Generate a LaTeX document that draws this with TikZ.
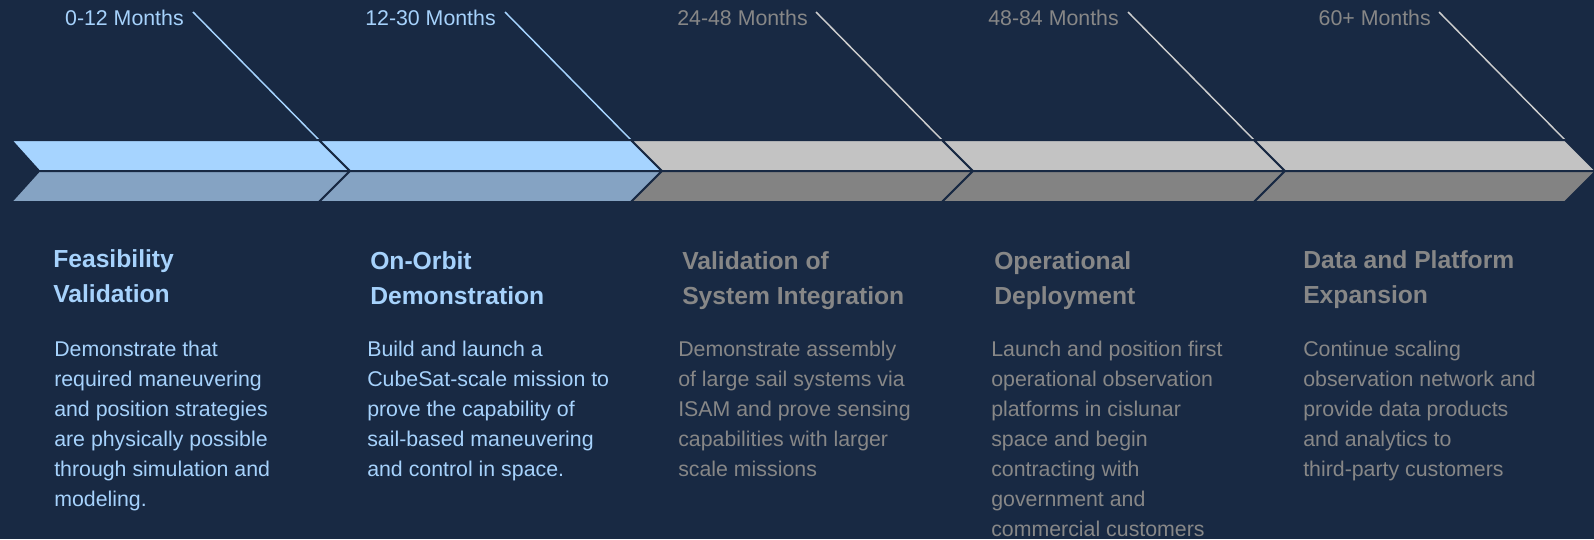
\documentclass[tikz,border=0pt]{standalone}
\usepackage{fontspec}
\setmainfont{Liberation Sans}
\definecolor{navybg}{RGB}{24,41,67}
\definecolor{skytop}{RGB}{166,212,255}
\definecolor{skybot}{RGB}{133,163,195}
\definecolor{greytop}{RGB}{195,195,195}
\definecolor{greybot}{RGB}{131,131,131}
\definecolor{skytext}{RGB}{166,210,252}
\definecolor{greytext}{RGB}{135,135,135}
\definecolor{greyline}{RGB}{205,205,205}

\begin{document}
\begin{tikzpicture}[x=0.75pt,y=0.75pt,yscale=-1,xscale=1,
  band/.style={draw=navybg, line width=1.5pt, line join=miter},
  leader/.style={line width=1.1pt},
  monthlabel/.style={anchor=base east, inner sep=0pt, font=\fontsize{16}{19}\selectfont},
  phasetitle/.style={anchor=base west, inner sep=0pt, align=left, font=\fontsize{18.5}{26.25}\selectfont\bfseries},
  blurb/.style={anchor=base west, inner sep=0pt, align=left, font=\fontsize{16}{22.5}\selectfont}]

\useasboundingbox (0,0) rectangle (1594,539);
%Shape: Rectangle [background]
\fill [navybg] (0,0) rectangle (1594,539);

%Leader end points
\coordinate (lt1) at (193,12);   \coordinate (lb1) at (319,140);
\coordinate (lt2) at (505,12);   \coordinate (lb2) at (631,140);
\coordinate (lt3) at (816,12);   \coordinate (lb3) at (942,140);
\coordinate (lt4) at (1128,12);  \coordinate (lb4) at (1254,140);
\coordinate (lt5) at (1439,12);  \coordinate (lb5) at (1565,140);

%Straight Lines [leaders]
\draw [leader, skytop] (lt1) -- (lb1) ;
\draw [leader, skytop] (lt2) -- (lb2) ;
\draw [leader, greyline] (lt3) -- (lb3) ;
\draw [leader, greyline] (lt4) -- (lb4) ;
\draw [leader, greyline] (lt5) -- (lb5) ;

%Shape: Chevron 1
\draw [band, fill=skytop] (11,140) -- (319,140) -- (350,171) -- (39,171) -- cycle ;
\draw [band, fill=skybot] (39,171) -- (350,171) -- (319,202) -- (11,202) -- cycle ;
%Shape: Chevron 2
\draw [band, fill=skytop] (319,140) -- (631,140) -- (662,171) -- (350,171) -- cycle ;
\draw [band, fill=skybot] (350,171) -- (662,171) -- (631,202) -- (319,202) -- cycle ;
%Shape: Chevron 3
\draw [band, fill=greytop] (631,140) -- (942,140) -- (973,171) -- (662,171) -- cycle ;
\draw [band, fill=greybot] (662,171) -- (973,171) -- (942,202) -- (631,202) -- cycle ;
%Shape: Chevron 4
\draw [band, fill=greytop] (942,140) -- (1254,140) -- (1285,171) -- (973,171) -- cycle ;
\draw [band, fill=greybot] (973,171) -- (1285,171) -- (1254,202) -- (942,202) -- cycle ;
%Shape: Chevron 5
\draw [band, fill=greytop] (1254,140) -- (1565,140) -- (1596,171) -- (1285,171) -- cycle ;
\draw [band, fill=greybot] (1285,171) -- (1596,171) -- (1565,202) -- (1254,202) -- cycle ;

% Text Node
\draw (184,25) node (mon1) [monthlabel, skytext] {0-12 Months};
% Text Node
\draw (496,25) node (mon2) [monthlabel, skytext] {12-30 Months};
% Text Node
\draw (808,25) node (mon3) [monthlabel, greytext] {24-48 Months};
% Text Node
\draw (1119,25) node (mon4) [monthlabel, greytext] {48-84 Months};
% Text Node
\draw (1431,25) node (mon5) [monthlabel, greytext] {60+ Months};

% Text Node (base = last line)
\draw (53,302) node (ttl1) [phasetitle, skytext] {Feasibility\\Validation};
% Text Node
\draw (370,304) node (ttl2) [phasetitle, skytext] {On-Orbit\\Demonstration};
% Text Node
\draw (682,304) node (ttl3) [phasetitle, greytext] {Validation of\\System Integration};
% Text Node
\draw (994,304) node (ttl4) [phasetitle, greytext] {Operational\\Deployment};
% Text Node
\draw (1303,303) node (ttl5) [phasetitle, greytext] {Data and Platform\\Expansion};

% Text Node
\draw (54,506) node (txt1) [blurb, skytext] {Demonstrate that\\required maneuvering\\and position strategies\\are physically possible\\through simulation and\\modeling.};
% Text Node
\draw (367,476) node (txt2) [blurb, skytext] {Build and launch a\\CubeSat-scale mission to\\prove the capability of\\sail-based maneuvering\\and control in space.};
% Text Node
\draw (678,476) node (txt3) [blurb, greytext] {Demonstrate assembly\\of large sail systems via\\ISAM and prove sensing\\capabilities with larger\\scale missions};
% Text Node
\draw (991,536) node (txt4) [blurb, greytext] {Launch and position first\\operational observation\\platforms in cislunar\\space and begin\\contracting with\\government and\\commercial customers};
% Text Node
\draw (1303,476) node (txt5) [blurb, greytext] {Continue scaling\\observation network and\\provide data products\\and analytics to\\third-party customers};

\end{tikzpicture}
\end{document}
